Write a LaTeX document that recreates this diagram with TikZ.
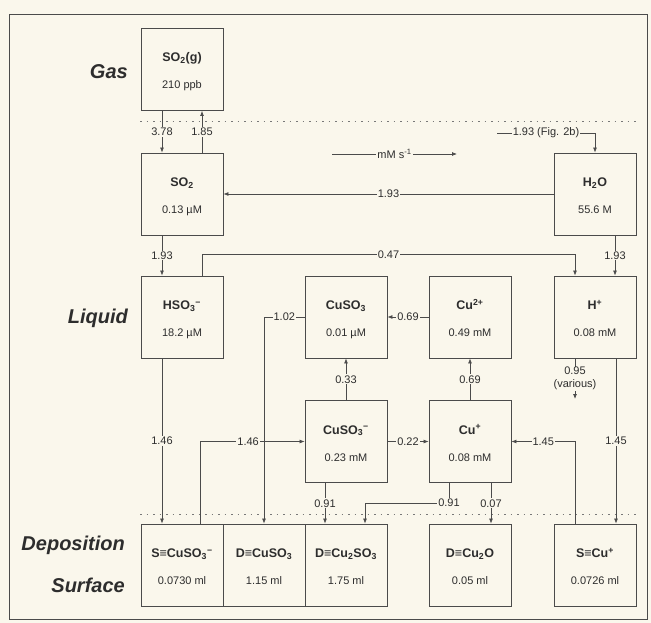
\documentclass[tikz,border=0pt]{standalone}
\usepackage{fontspec}
\setmainfont{Liberation Sans}
\usetikzlibrary{arrows.meta}
\definecolor{bg}{RGB}{250,247,236}
\definecolor{ln}{RGB}{75,75,75}
\definecolor{tx}{RGB}{45,45,45}
\newcommand\anion[1]{\textsubscript{#1}\textsuperscript{−}}
\newcommand\speciesbox[4]{%
  \node[box] (#1) at (#2) {};
  \node[nm] (#1-n) at ([yshift=7.5pt]#1.center) {#3};
  \node[vl] (#1-v) at ([yshift=-19.5pt]#1.center) {#4};}
\begin{document}
\begin{tikzpicture}[x=1pt,y=-1pt,
  box/.style={draw=ln,line width=0.85pt,minimum width=82pt,minimum height=82pt,inner sep=0pt},
  nm/.style={text=tx,font=\fontsize{12.5}{14}\selectfont\bfseries,anchor=base,inner sep=0pt},
  vl/.style={text=tx,font=\fontsize{11}{12}\selectfont,anchor=base,inner sep=0pt},
  arr/.style={draw=ln,line width=0.75pt,-{Latex[length=5pt,width=4pt]}},
  lbl/.style={fill=bg,text=tx,font=\fontsize{11}{12}\selectfont,inner sep=1pt},
  region/.style={text=tx,font=\fontsize{20}{22}\selectfont\bfseries\itshape,anchor=base east,inner sep=0pt},
  sep/.style={draw=ln!75,line width=0.9pt,dash pattern=on 1.5pt off 5pt}]
\fill[bg] (0,0) rectangle (651,623);
\useasboundingbox (0,0) rectangle (651,623);
\draw[ln,line width=0.8pt] (9,14) rectangle (647,619);

% region labels
\node[region] (gas) at (128,79) {Gas};
\node[region] (liq) at (128,323) {Liquid};
\node[region] (dep) at (125,550) {Deposition};
\node[region] (sur) at (125,592) {Surface};

% separators
\draw[sep] (140,121) -- (636,121);
\draw[sep] (140,514) -- (636,514);

% boxes
\speciesbox{so2g}{182,69.5}{SO\textsubscript{2}(g)}{210 ppb}
\speciesbox{so2}{182,194}{SO\textsubscript{2}}{0.13 µM}
\speciesbox{h2o}{595,194}{H\textsubscript{2}O}{55.6 M}
\speciesbox{hso3}{182,317}{HSO\anion{3}}{18.2 µM}
\speciesbox{cuso3}{346,317}{CuSO\textsubscript{3}}{0.01 µM}
\speciesbox{cu2}{470,317}{Cu\textsuperscript{2+}}{0.49 mM}
\speciesbox{hp}{595,317}{H\textsuperscript{+}}{0.08 mM}
\speciesbox{cuso3m}{346,441.5}{CuSO\anion{3}}{0.23 mM}
\speciesbox{cup}{470,441.5}{Cu\textsuperscript{+}}{0.08 mM}
\speciesbox{s1}{182,565}{S≡CuSO\anion{3}}{0.0730 ml}
\speciesbox{d1}{264,565}{D≡CuSO\textsubscript{3}}{1.15 ml}
\speciesbox{d2}{346,565}{D≡Cu\textsubscript{2}SO\textsubscript{3}}{1.75 ml}
\speciesbox{d3}{470,565}{D≡Cu\textsubscript{2}O}{0.05 ml}
\speciesbox{s2}{595,565}{S≡Cu\textsuperscript{+}}{0.0726 ml}

% free ends
\coordinate (figA) at (497,133);
\coordinate (legA) at (332,154);
\coordinate (legB) at (457,154);
\coordinate (var) at (575,399);

% connectors
\draw[arr] ([xshift=-20pt]so2g.south) -- node[lbl]{3.78} ([xshift=-20pt]so2.north);
\draw[arr] ([xshift=20pt]so2.north) -- node[lbl]{1.85} ([xshift=20pt]so2g.south);
\draw[arr] (h2o.west) -- node[lbl]{1.93} (so2.east);
\draw[arr] (figA) -- node[lbl]{1.93 (Fig. 2b)} (figA -| h2o.north) -- (h2o.north);
\draw[arr] (legA) -- node[lbl]{mM s\textsuperscript{-1}} (legB);
\draw[arr] ([xshift=-20pt]so2.south) -- node[lbl]{1.93} ([xshift=-20pt]hso3.north);
\draw[arr] ([xshift=20pt]hso3.north) -- ++(0,-21) -| node[lbl,pos=0.25]{0.47} ([xshift=-20pt]hp.north);
\draw[arr] ([xshift=20pt]h2o.south) -- node[lbl]{1.93} ([xshift=20pt]hp.north);
\draw[arr] (cu2.west) -- node[lbl]{0.69} (cuso3.east);
\draw[arr] (cuso3.west) -| node[lbl,pos=0.25]{1.02} (d1.north);
\draw[arr] (cuso3m.north) -- node[lbl]{0.33} (cuso3.south);
\draw[arr] (cup.north) -- node[lbl]{0.69} (cu2.south);
\draw[arr] ([xshift=-20pt]hp.south) -- node[lbl,align=center,font=\fontsize{11}{13}\selectfont,inner sep=0.5pt]{0.95\\(various)} (var);
\draw[arr] ([xshift=-20pt]hso3.south) -- node[lbl]{1.46} ([xshift=-20pt]s1.north);
\draw[arr] ([xshift=18pt]s1.north) |- node[lbl,pos=0.73]{1.46} (cuso3m.west);
\draw[arr] (cuso3m.east) -- node[lbl]{0.22} (cup.west);
\draw[arr] ([xshift=-20pt]s2.north) |- node[lbl,pos=0.75]{1.45} (cup.east);
\draw[arr] ([xshift=21pt]hp.south) -- node[lbl]{1.45} ([xshift=21pt]s2.north);
\draw[arr] ([xshift=-21pt]cuso3m.south) -- node[lbl]{0.91} ([xshift=-21pt]d2.north);
\draw[arr] ([xshift=-21pt]cup.south) -- ++(0,20) node[lbl]{0.91} -| ([xshift=19pt]d2.north);
\draw[arr] ([xshift=21pt]cup.south) -- node[lbl]{0.07} ([xshift=21pt]d3.north);
\end{tikzpicture}
\end{document}
